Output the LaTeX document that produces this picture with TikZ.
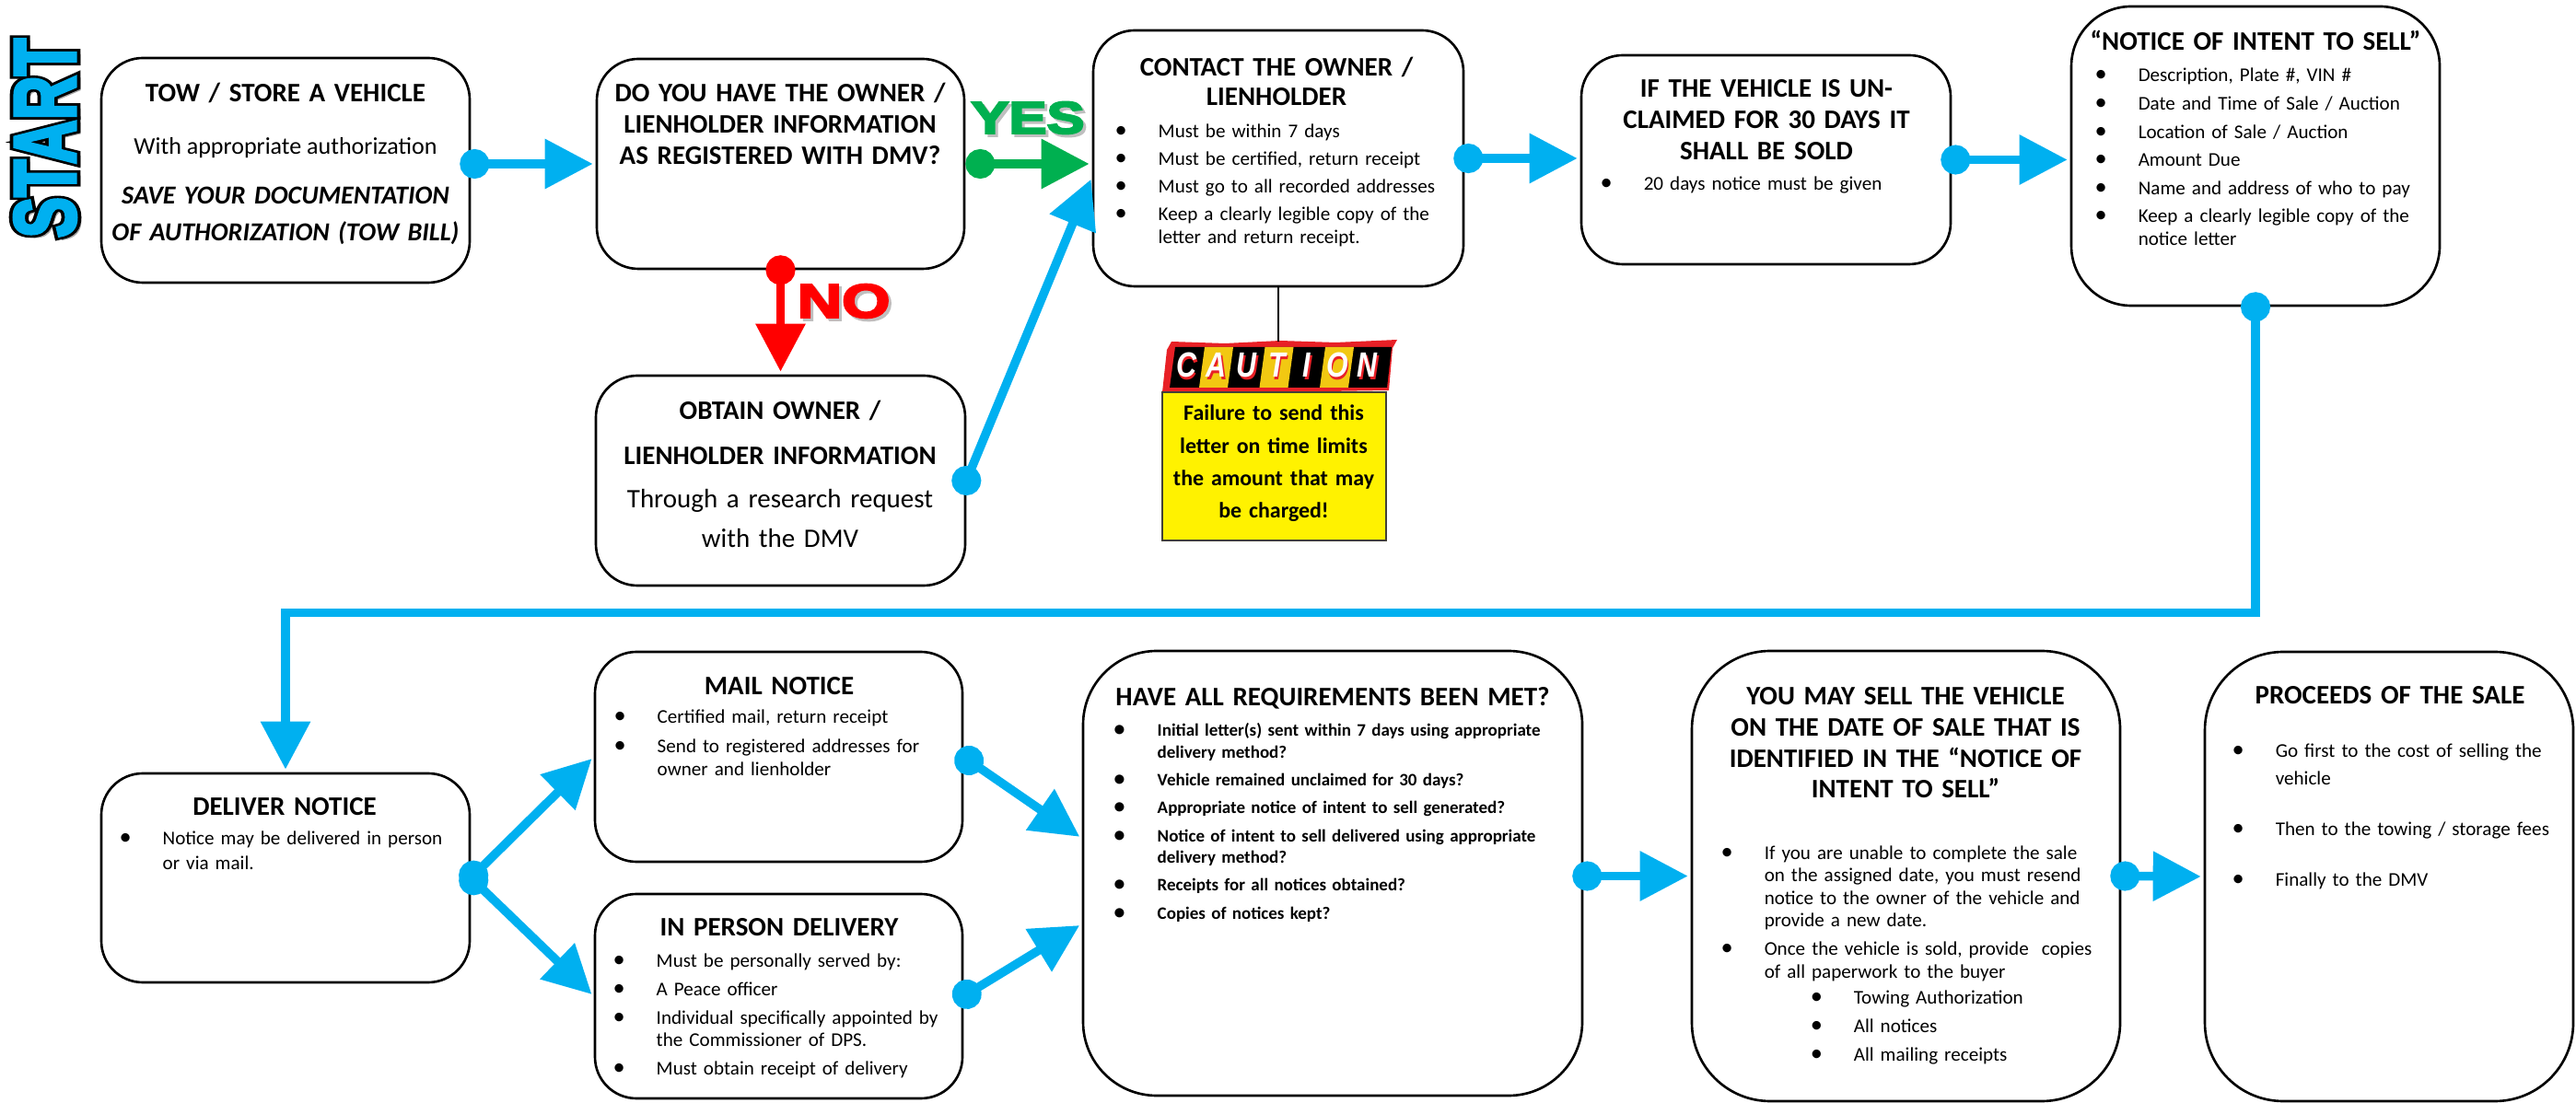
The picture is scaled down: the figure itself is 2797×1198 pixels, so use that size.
\documentclass[tikz,border=0pt]{standalone}
\usepackage{fontspec}
\usepackage{graphicx}
\setmainfont{Carlito}
\newfontfamily\heavyfont{Liberation Sans}
\newfontfamily\outlinefont{Liberation Sans}[BoldFeatures={FakeBold=12}]
\newfontfamily\fillfont{Liberation Sans}[BoldFeatures={FakeBold=4}]
\usetikzlibrary{arrows.meta, fit}

\definecolor{flowblue}{RGB}{0,176,240}
\definecolor{yesgreen}{RGB}{0,176,80}
\definecolor{cautionred}{RGB}{232,32,38}
\definecolor{cautionyellow}{RGB}{242,200,18}

% bullet items
\newcommand{\itm}[1]{\lineskip=0pt\makebox[0.47cm][l]{\scalebox{1.25}{\textbullet}}\parbox[t]{\dimexpr\linewidth-0.47cm\relax}{\strut#1\strut}\par}
\newcommand{\subitm}[1]{\hspace*{0.97cm}\makebox[0.47cm][l]{\scalebox{1.25}{\textbullet}}#1\par}
% white letter with red shade
\newcommand{\shadeletter}[1]{\makebox[0pt][l]{\hspace{0.6pt}\raisebox{-0.8pt}{\textcolor{cautionred}{#1}}}\textcolor{white}{#1}}

\begin{document}
\begin{tikzpicture}[x=0.01cm, y=-0.01cm,
    box/.style={draw, line width=0.75pt, rounded corners=0.45cm, inner sep=0pt},
    tallbox/.style={box, rounded corners=0.85cm},
    title/.style={anchor=base, inner sep=0pt, text width=#1, align=center,
      font=\fontsize{8.25pt}{9.55pt}\selectfont\bfseries},
    list/.style={anchor=base west, inner sep=0pt, text width=#1, align=left,
      font=\fontsize{6pt}{7pt}\selectfont},
    flow/.style={color=flowblue, line width=0.095cm,
      {Circle[length=0.32cm]}-{Triangle[length=0.52cm,width=0.52cm]},
      shorten <=-0.12cm, shorten >=0.03cm},
    bigword/.style={inner sep=0pt, font=\fillfont\bfseries\fontsize{14pt}{14pt}\selectfont},
    cautionletter/.style={inner sep=0pt, font=\heavyfont\bfseries\itshape\fontsize{10.8pt}{10.8pt}\selectfont}]
  \useasboundingbox (0,0) rectangle (2797,1198);
  \fill[white] (0,0) rectangle (2797,1198);

  % start
  \node[rotate=90, text=black!35, font=\fillfont\bfseries\fontsize{27pt}{27pt}\selectfont] (startshadow) at (53,153) {\scalebox{0.7}[1]{START}};
  \node[rotate=90, text=black, font=\outlinefont\bfseries\fontsize{27pt}{27pt}\selectfont] (startline) at (49,150) {\scalebox{0.7}[1]{START}};
  \node[rotate=90, text=flowblue, font=\fillfont\bfseries\fontsize{27pt}{27pt}\selectfont] (start) at (49,150) {\scalebox{0.7}[1]{START}};

  % top row
  \node[box, fit={(110,63) (510,307)}] (tow) {};
  \node[title=3.8cm] (towtitle) at (310,111) {TOW / STORE A VEHICLE};
  \node[anchor=base, inner sep=0pt, font=\fontsize{7.4pt}{9pt}\selectfont] (towbody) at (310,168) {With appropriate authorization};
  \node[title=3.8cm, font=\fontsize{8pt}{11.1pt}\selectfont\bfseries\itshape] (towsave) at (310,222) {SAVE YOUR DOCUMENTATION\\ OF AUTHORIZATION (TOW BILL)};

  \node[box, fit={(648,64) (1047,292)}] (q) {};
  \node[title=3.8cm] (qtitle) at (847,111) {DO YOU HAVE THE OWNER /\\ LIENHOLDER INFORMATION\\ AS REGISTERED WITH DMV?};

  \node[box, fit={(647,408) (1048,636)}] (obtain) {};
  \node[title=3.8cm, font=\fontsize{8.25pt}{13.66pt}\selectfont\bfseries] (obtaintitle) at (847,456) {OBTAIN OWNER /\\ LIENHOLDER INFORMATION};
  \node[title=3.8cm, font=\fontsize{8.25pt}{12.2pt}\selectfont] (obtainbody) at (847,552) {Through a research request\\ with the DMV};

  \node[box, fit={(1187,33) (1589,311)}] (contact) {};
  \node[title=3.8cm, font=\fontsize{8.25pt}{9.1pt}\selectfont\bfseries] (contacttitle) at (1386,83) {CONTACT THE OWNER /\\ LIENHOLDER};
  \node[list=3.7cm] (contactlist) at (1210,150) {\setlength{\parskip}{1.5pt}%
    \itm{Must be within 7 days}\itm{Must be certified, return receipt}%
    \itm{Must go to all recorded addresses}\itm{Keep a clearly legible copy of the\\ letter and return receipt.}};

  \node[box, fit={(1717,60) (2118,287)}] (unclaimed) {};
  \node[title=3.8cm, font=\fontsize{8.25pt}{9.67pt}\selectfont\bfseries] (unclaimedtitle) at (1918,106) {IF THE VEHICLE IS UN-\\ CLAIMED FOR 30 DAYS IT\\ SHALL BE SOLD};
  \node[list=3.6cm] (unclaimedlist) at (1737,207) {\itm{20 days notice must be given}};

  \node[box, rounded corners=0.65cm, fit={(2249,7) (2649,332)}] (notice) {};
  \node[title=3.8cm] (noticetitle) at (2449,55) {“NOTICE OF INTENT TO SELL”};
  \node[list=3.6cm] (noticelist) at (2274,89) {\setlength{\parskip}{1.7pt}%
    \itm{Description, Plate \#, VIN \#}\itm{Date and Time of Sale / Auction}%
    \itm{Location of Sale / Auction}\itm{Amount Due}\itm{Name and address of who to pay}%
    \itm{Keep a clearly legible copy of the\\ notice letter}};

  % caution
  \fill[cautionred] (1262,426) -- (1267,380) -- (1272,371) -- (1330,373) -- (1390,370) -- (1450,372)
    -- (1517,369) -- (1512,378) -- (1508,424) -- (1440,425) -- (1380,427) -- (1320,425) -- cycle;
  \fill[black] (1270,421) -- (1276,377) -- (1511,377) -- (1506,421) -- cycle;
  \foreach \i in {0,1,2}
    \fill[cautionyellow] (1302+65.5*\i,421) -- (1308+65.5*\i,377) -- (1339+65.5*\i,377) -- (1333+65.5*\i,421) -- cycle;
  \foreach \ch [count=\k from 0] in {C,A,U,T,I,O,N}
    \node[cautionletter] (letter\k) at (1288+32.8*\k,398) {\scalebox{0.8}[1]{\shadeletter{\ch}}};
  \coordinate (bannertop) at (1390,371);
  \node[fit={(1262,426) (1505,587)}, inner sep=0pt, fill=yellow, draw=black!85!yellow, line width=0.6pt] (caution) {};
  \node[title=2.3cm, font=\fontsize{6.8pt}{9.96pt}\selectfont\bfseries] (cautiontext) at (1383,457) {Failure to send this\\ letter on time limits\\ the amount that may\\ be charged!};
  \draw[line width=0.5pt] (contact.south) -- (contact.south |- bannertop);

  % bottom row
  \node[box, fit={(110,840) (510,1067)}] (deliver) {};
  \node[title=3.8cm] (delivertitle) at (309,886) {DELIVER NOTICE};
  \node[list=3.7cm, font=\fontsize{6pt}{7.4pt}\selectfont] (deliverlist) at (129,918) {\itm{Notice may be delivered in person\\ or via mail.}};

  \node[box, fit={(646,708) (1045,936)}] (mail) {};
  \node[title=3.8cm] (mailtitle) at (846,755) {MAIL NOTICE};
  \node[list=3.7cm] (maillist) at (666,786) {\setlength{\parskip}{2pt}%
    \itm{Certified mail, return receipt}\itm{Send to registered addresses for\\ owner and lienholder}};

  \node[box, fit={(646,971) (1045,1193)}] (inperson) {};
  \node[title=3.8cm] (inpersontitle) at (846,1017) {IN PERSON DELIVERY};
  \node[list=3.7cm, font=\fontsize{6pt}{6.83pt}\selectfont] (inpersonlist) at (665,1050) {\setlength{\parskip}{2pt}%
    \itm{Must be personally served by:}\itm{A Peace officer}%
    \itm{Individual specifically appointed by\\ the Commissioner of DPS.}\itm{Must obtain receipt of delivery}};

  \node[tallbox, rounded corners=0.8cm, fit={(1176,707) (1718,1190)}] (req) {};
  \node[title=5.2cm] (reqtitle) at (1447,767) {HAVE ALL REQUIREMENTS BEEN MET?};
  \node[list=5cm, font=\fontsize{5.4pt}{6.55pt}\selectfont\bfseries] (reqlist) at (1209,800) {\setlength{\parskip}{2.1pt}%
    \itm{Initial letter(s) sent within 7 days using appropriate\\ delivery method?}%
    \itm{Vehicle remained unclaimed for 30 days?}%
    \itm{Appropriate notice of intent to sell generated?}%
    \itm{Notice of intent to sell delivered using appropriate\\ delivery method?}%
    \itm{Receipts for all notices obtained?}\itm{Copies of notices kept?}};

  \node[tallbox, fit={(1837,707) (2302,1196)}] (sell) {};
  \node[title=4.4cm] (selltitle) at (2069,766) {YOU MAY SELL THE VEHICLE\\ ON THE DATE OF SALE THAT IS\\ IDENTIFIED IN THE “NOTICE OF\\ INTENT TO SELL”};
  \node[list=4.3cm] (selllist) at (1868,933) {\setlength{\parskip}{1.8pt}%
    \itm{If you are unable to complete the sale\\ on the assigned date, you must resend\\ notice to the owner of the vehicle and\\ provide a new date.}%
    \itm{Once the vehicle is sold, provide\ \ copies\\ of all paperwork to the buyer}%
    \subitm{Towing Authorization}\subitm{All notices}\subitm{All mailing receipts}};

  \node[tallbox, fit={(2394,708) (2794,1196)}] (proceeds) {};
  \node[title=3.8cm] (proceedstitle) at (2595,765) {PROCEEDS OF THE SALE};
  \node[list=3.65cm, font=\fontsize{6pt}{8.5pt}\selectfont] (proceedslist) at (2423,823) {\setlength{\parskip}{7.1pt}%
    \itm{Go first to the cost of selling the\\ vehicle}\itm{Then to the towing / storage fees}\itm{Finally to the DMV}};

  % yes / no
  \node[bigword, text=black!25] (yesshadow) at (1119,131) {\scalebox{1.25}[1]{YES}};
  \node[bigword, text=yesgreen] (yes) at (1116,128) {\scalebox{1.25}[1]{YES}};
  \node[bigword, text=black!25, font=\fillfont\bfseries\fontsize{14.7pt}{14.7pt}\selectfont] (noshadow) at (919,330) {\scalebox{1.3}[1]{NO}};
  \node[bigword, text=red, font=\fillfont\bfseries\fontsize{14.7pt}{14.7pt}\selectfont] (no) at (916,327) {\scalebox{1.3}[1]{NO}};

  % connectors
  \draw[flow] (tow.east |- q.west) -- (q.west);
  \draw[flow, yesgreen, shorten <=0cm] (q.east) -- (contact.west |- q.east);
  \draw[flow, red, shorten <=-0.16cm] (q.south) -- (obtain.north);
  \draw[flow, shorten <=-0.16cm] (obtain.east) -- ([yshift=-0.2cm]contact.west);
  \draw[flow] (contact.east) -- (unclaimed.west |- contact.east);
  \draw[flow] (unclaimed.east) -- (notice.west |- unclaimed.east);
  \draw[flow, shorten <=-0.16cm] (notice.south) -- ++(0,332) -| (deliver.north);
  \draw[flow] (deliver.east) -- (mail.west);
  \draw[flow] (deliver.east) -- (inperson.west);
  \draw[flow, shorten <=-0.09cm] (mail.east) -- ([yshift=0.38cm]req.west);
  \draw[flow] (inperson.east) -- ([yshift=-0.55cm]req.west);
  \draw[flow] (req.east |- sell.west) -- (sell.west);
  \draw[flow] (sell.east) -- (proceeds.west);
\end{tikzpicture}
\end{document}
